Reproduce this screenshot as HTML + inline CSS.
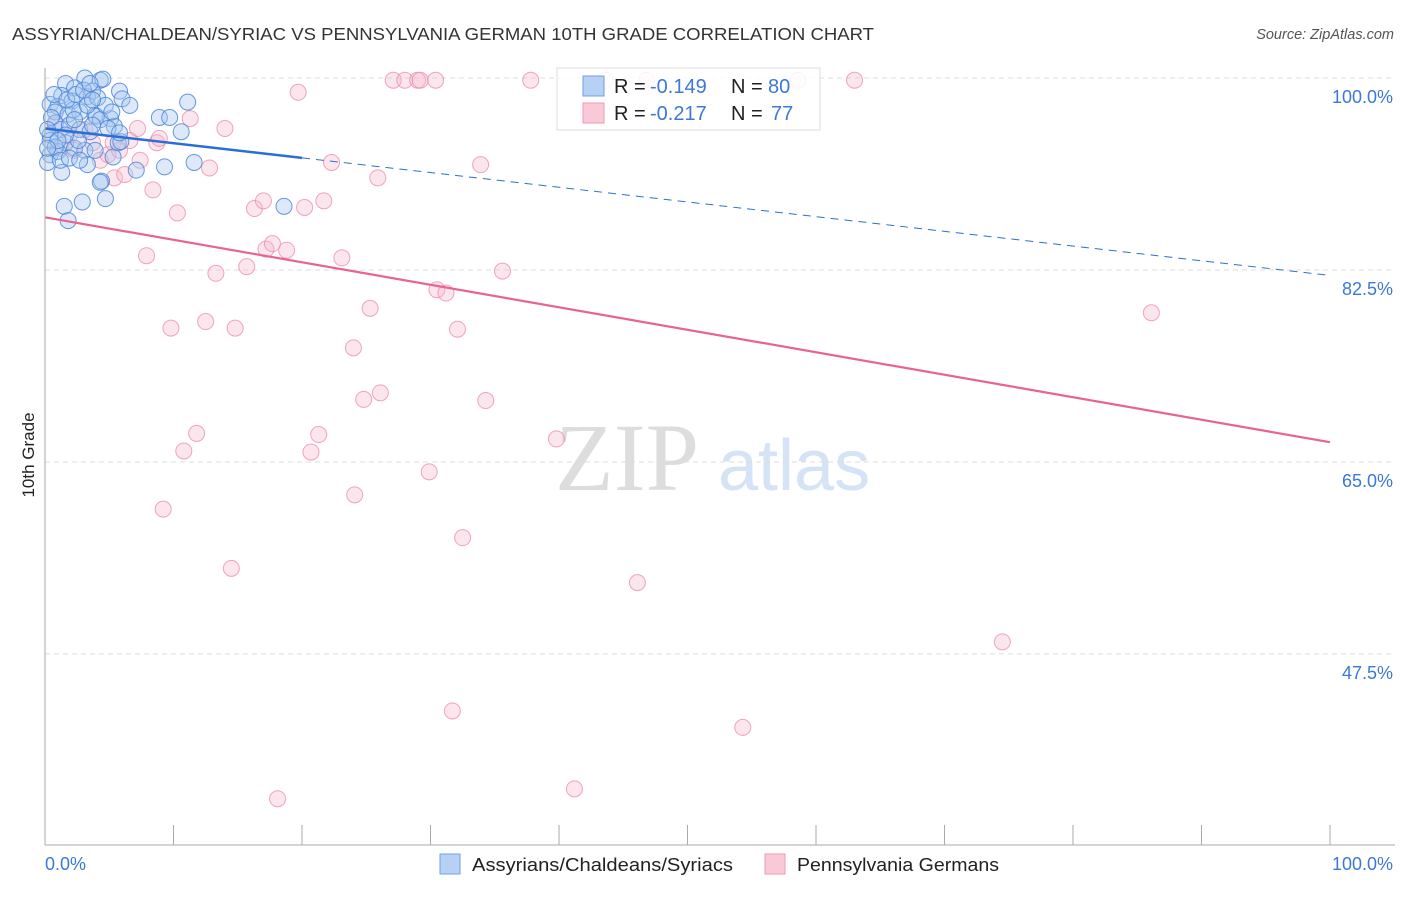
<!DOCTYPE html>
<html><head><meta charset="utf-8"><style>
body{margin:0;background:#fff;font-family:"Liberation Sans",sans-serif;}
svg text{font-family:"Liberation Sans",sans-serif;}
</style></head><body>
<svg id="chart" width="1406" height="892">
<text x="12" y="40" font-size="17.5" fill="#333" textLength="862" lengthAdjust="spacingAndGlyphs">ASSYRIAN/CHALDEAN/SYRIAC VS PENNSYLVANIA GERMAN 10TH GRADE CORRELATION CHART</text>
<text x="1394" y="39" font-size="14.5" fill="#555" font-style="italic" text-anchor="end">Source: ZipAtlas.com</text>
<text transform="translate(34,455) rotate(-90)" font-size="17" fill="#222" text-anchor="middle">10th Grade</text>
<text x="555" y="490" font-size="96" fill="#ddd" style="font-family:'Liberation Serif',serif">ZIP</text>
<text x="718" y="490" font-size="72" fill="#d4e3f5">atlas</text>
<g id="grid"></g><g id="pts"></g><g id="trend"></g>
<line x1="45" y1="68" x2="45" y2="845" stroke="#aaa"/>
<line x1="45" y1="845" x2="1395" y2="845" stroke="#aaa"/>
<text x="45" y="870" font-size="18" fill="#3c78d8">0.0%</text>
<text x="1393" y="870" font-size="18" fill="#3c78d8" text-anchor="end">100.0%</text>
<g>
<rect x="557" y="68" width="263" height="62" fill="#fff" fill-opacity="0.85" stroke="#ddd"/>
<rect x="583" y="76" width="21" height="20" fill="#b7d1f5" stroke="#6fa0e6"/>
<rect x="583" y="103" width="21" height="20" fill="#f9c9d7" stroke="#ee9ab4"/>
<text x="614" y="93" font-size="20" fill="#222">R = <tspan fill="#3c78d8" x="650">-0.149</tspan><tspan x="731">N = </tspan><tspan fill="#3c78d8" x="768">80</tspan></text>
<text x="614" y="120" font-size="20" fill="#222">R = <tspan fill="#3c78d8" x="650">-0.217</tspan><tspan x="731">N = </tspan><tspan fill="#3c78d8" x="771">77</tspan></text>
</g>
<g>
<rect x="440" y="854" width="20" height="20" fill="#b7d1f5" stroke="#6fa0e6"/>
<text x="472" y="871" font-size="18" fill="#222" textLength="261" lengthAdjust="spacingAndGlyphs">Assyrians/Chaldeans/Syriacs</text>
<rect x="765" y="854" width="20" height="20" fill="#f9c9d7" stroke="#ee9ab4"/>
<text x="797" y="871" font-size="18" fill="#222" textLength="202" lengthAdjust="spacingAndGlyphs">Pennsylvania Germans</text>
</g>
</svg>
<script>
const yTicks=[100,82.5,65,47.5];
const xTicks=[0,10,20,30,40,50,60,70,80,90,100];
const blueX=[1.6,3.1,4.3,4.5,5.8,3.7,2.3,1.3,0.4,1.0,2.1,3.3,0.8,1.8,2.7,3.9,5.1,6.0,6.6,11.1,8.9,9.7,5.4,4.0,0.8,1.2,1.9,2.7,0.4,1.6,2.3,3.1,0.4,1.0,0.2,1.3,3.3,4.4,4.3,5.3,5.7,5.9,7.1,9.3,11.6,10.6,1.5,2.9,4.7,1.8,18.6,0.4,0.8,1.2,2.6,3.5,4.3,4.9,0.5,0.2,2.2,3.3,4.1,4.7,5.2,1.6,2.3,3.7,1.0,1.9,2.7,3.9,5.8,0.2,0.7,1.7,2.4,3.0,3.5,3.7];
const blueY=[99.5,100,99.8,99.9,98.8,98.8,99.1,98.4,97.6,97.4,97.9,98.3,96.9,96.7,96.9,96.6,96.3,98.1,97.5,97.8,96.4,96.4,95.6,96.5,95.9,95.3,95.7,95.3,94.8,94.1,93.6,93.4,93.0,93.3,92.3,91.4,92.1,90.6,90.5,92.8,94.1,94.2,91.6,91.9,92.3,95.1,88.3,88.7,89.0,87.0,88.3,94.3,93.7,92.5,94.3,95.1,96.2,95.4,96.4,95.3,97.1,97.5,98.2,97.5,96.9,94.8,96.2,95.7,94.3,92.7,92.5,93.4,95.0,93.6,98.5,98.0,98.5,98.9,99.5,98.0];
const pinkX=[8.7,11.3,14.0,19.7,27.1,28.0,29.0,29.2,30.4,37.8,43.6,46.8,58.6,63.0,12.8,7.4,8.4,10.3,16.3,17.0,20.2,21.7,22.3,25.9,33.9,7.9,13.3,15.7,17.2,17.7,18.8,23.1,35.6,30.5,31.2,25.3,86.1,9.8,12.5,14.8,32.1,24.0,26.1,24.8,34.3,11.8,10.8,21.3,20.7,39.8,29.9,24.1,9.2,32.5,14.5,46.1,74.5,31.7,54.3,41.2,18.1,4.3,5.4,6.2,3.7,1.9,1.2,4.9,6.6,3.1,0.8,2.3,5.8,8.9,5.3,7.2];
const pinkY=[94.1,96.3,95.4,98.7,99.8,99.8,99.8,99.8,99.8,99.8,99.8,99.8,99.8,99.8,91.8,92.5,89.8,87.7,88.1,88.8,88.2,88.8,92.3,90.9,92.1,83.8,82.2,82.8,84.4,84.9,84.3,83.6,82.4,80.7,80.4,79.0,78.6,77.2,77.8,77.2,77.1,75.4,71.3,70.7,70.6,67.6,66.0,67.5,65.9,67.1,64.1,62.0,60.7,58.1,55.3,54.0,48.6,42.3,40.8,35.2,34.3,92.5,90.9,91.2,94.1,94.8,93.6,93.0,94.3,95.3,95.7,93.4,93.4,94.5,94.1,95.4];
const blueTrend=[95.4,82.0];
const pinkTrend=[87.3,66.8];
const blueSolidEnd=20;
const NS='http://www.w3.org/2000/svg';
const X=v=>45+v*12.85;
const Y=v=>78+(100-v)*10.97;
function mk(t,a,p){const e=document.createElementNS(NS,t);for(const k in a)e.setAttribute(k,a[k]);p.appendChild(e);return e;}
const grid=document.getElementById('grid');
yTicks.forEach(t=>{
 const l=mk('line',{x1:45,x2:1395,y1:Y(t),y2:Y(t),stroke:'#ddd','stroke-dasharray':'5,4'},grid);
 
 
 const tx=mk('text',{x:1393,y:Y(t)+25,'font-size':18,fill:'#3c78d8','text-anchor':'end'},grid);
 tx.textContent=t.toFixed(1)+'%';
 
 
});
xTicks.forEach(t=>{
 const l=mk('line',{x1:X(t),x2:X(t),y1:825,y2:845,stroke:'#aaa'},grid);
 
 
});
const pts=document.getElementById('pts');
pinkX.forEach((x,i)=>{
 const c=mk('circle',{cx:X(x),cy:Y(pinkY[i]),r:8,fill:'#f7b8cb','fill-opacity':0.35,stroke:'#ec8fab','stroke-width':1,'stroke-opacity':0.8},pts);
 
 
});
blueX.forEach((x,i)=>{
 const c=mk('circle',{cx:X(x),cy:Y(blueY[i]),r:8,fill:'#a9c8f0','fill-opacity':0.4,stroke:'#4a86dc','stroke-width':1,'stroke-opacity':0.85},pts);
 
 
});
const tr=document.getElementById('trend');
const by=x=>blueTrend[0]+(blueTrend[1]-blueTrend[0])*x/100;
let l1=mk('line',{x1:X(0),y1:Y(by(0)),x2:X(blueSolidEnd),y2:Y(by(blueSolidEnd)),stroke:'#2a6fd6','stroke-width':2.5},tr);


let l2=mk('line',{x1:X(blueSolidEnd),y1:Y(by(blueSolidEnd)),x2:X(100),y2:Y(by(100)),stroke:'#2a6fd6','stroke-width':1,'stroke-dasharray':'8,6'},tr);


let l3=mk('line',{x1:X(0),y1:Y(pinkTrend[0]),x2:X(100),y2:Y(pinkTrend[1]),stroke:'#e8648f','stroke-width':2.2},tr);


</script>
</body></html>
